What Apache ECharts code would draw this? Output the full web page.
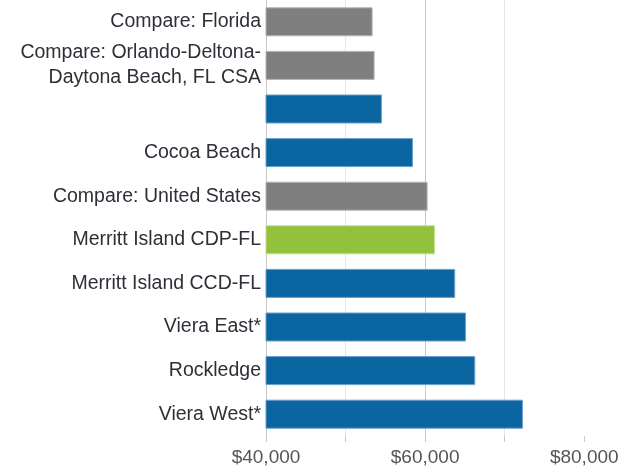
<!DOCTYPE html>
<html>
<head>
<meta charset="utf-8">
<script src="https://cdn.jsdelivr.net/npm/echarts@6/dist/echarts.min.js"></script>
<style>
html,body{margin:0;padding:0;background:#fff;}
#chart{width:634px;height:472px;}
</style>
</head>
<body>
<div id="chart"></div>
<script>
var categories = [
  'Compare: Florida',
  'Compare: Orlando-Deltona-\nDaytona Beach, FL CSA',
  '',
  'Cocoa Beach',
  'Compare: United States',
  'Merritt Island CDP-FL',
  'Merritt Island CCD-FL',
  'Viera East*',
  'Rockledge',
  'Viera West*'
];
var values = [53400, 53650, 54570, 58470, 60310, 61230, 63780, 65130, 66300, 72290];
var kinds = ['compare', 'compare', 'place', 'place', 'compare', 'highlight', 'place', 'place', 'place', 'place'];
var xTicks = [40000, 60000, 80000];
var gridTicks = [40000, 50000, 60000, 70000, 80000];

var fills = {compare: '#7f7f7f', place: '#0b65a1', highlight: '#92c13b'};
var borders = {compare: '#b4b4b4', place: '#6b9fcc', highlight: '#c2de8e'};

var chart = echarts.init(document.getElementById('chart'));
var font = '"Liberation Sans", Arial, sans-serif';
chart.setOption({
  animation: false,
  grid: {left: 266, right: 2, top: -2, bottom: 36, containLabel: false},
  xAxis: {
    type: 'value', min: 40000, max: 86000, interval: 10000,
    axisLine: {show: false},
    axisTick: {show: true, length: 6, customValues: gridTicks, lineStyle: {color: ['#c8c8c8', '#e6e6e6']}},
    splitLine: {show: true, showMaxLine: false, lineStyle: {color: ['#c8c8c8', '#e6e6e6'], width: 1}},
    axisLabel: {
      margin: 12, color: '#555', fontFamily: font, fontSize: 19, showMaxLabel: false,
      formatter: function (v) {
        return xTicks.indexOf(v) >= 0 ? '$' + v.toLocaleString('en-US') : '';
      }
    }
  },
  yAxis: {
    type: 'category', inverse: true, data: categories,
    axisLine: {show: true, lineStyle: {color: '#c8c8c8'}},
    axisTick: {show: false},
    axisLabel: {margin: 5, color: '#2f2f38', fontFamily: font, fontSize: 19.5, lineHeight: 25, align: 'right'}
  },
  series: [{
    type: 'bar', barWidth: 29,
    data: values.map(function (v, i) {
      return {value: v, itemStyle: {color: fills[kinds[i]], borderColor: borders[kinds[i]], borderWidth: 1}};
    })
  }]
});
</script>
</body>
</html>
